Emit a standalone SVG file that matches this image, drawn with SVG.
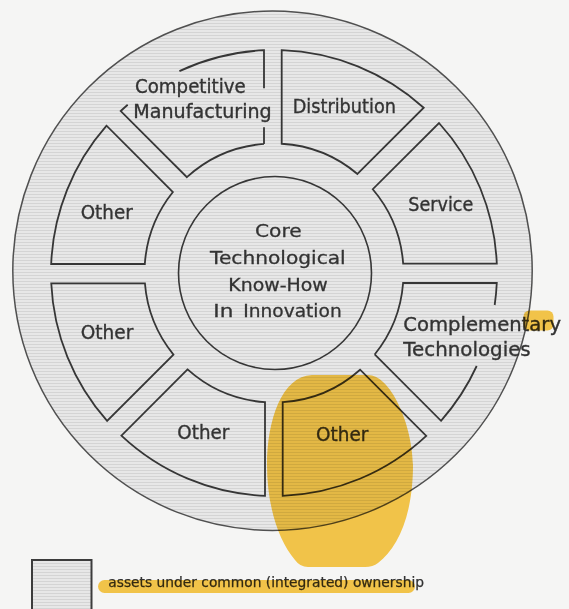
<svg xmlns="http://www.w3.org/2000/svg" width="569" height="609" viewBox="0 0 569 609">
  <defs>
    <pattern id="hatch" width="6" height="3" patternUnits="userSpaceOnUse">
      <rect width="6" height="3" fill="#e7e7e7"/>
      <rect y="2" width="6" height="1" fill="#d4d4d4"/>
    </pattern>
  </defs>
  <style>
    .seg { fill: none; stroke: #363636; stroke-width: 1.8; stroke-linejoin: miter; }
    .lbl { font-family: "DejaVu Sans", "Liberation Sans", sans-serif; font-size: 19px; fill: #333333; stroke: #333333; stroke-width: 0.35; }
    .core { font-family: "DejaVu Sans", "Liberation Sans", sans-serif; font-size: 18px; fill: #333333; stroke: #333333; stroke-width: 0.3; }
    .leg { font-family: "DejaVu Sans", "Liberation Sans", sans-serif; font-size: 13.5px; fill: #333333; stroke: #333333; stroke-width: 0.25; }
    .hl { fill: #fbcb4c; mix-blend-mode: multiply; }
  </style>

  <rect width="569" height="609" fill="#f5f5f4"/>

  <!-- outer disc -->
  <circle id="outer-disc" cx="272.5" cy="270.7" r="259.7" fill="url(#hatch)" stroke="#505050" stroke-width="1.5"/>

  <g id="node-service">
    <path class="seg" d="M403.16,263.6 L496.8,263.6 A223 223 0 0 0 439,122.99 L372.76,189.23 A129.5 129.5 0 0 1 403.16,263.6 Z"/>
    <text class="lbl" x="408.3" y="210.5" textLength="65" lengthAdjust="spacingAndGlyphs">Service</text>
  </g>

  <g id="node-distribution">
    <path class="seg" d="M357.46,173.98 L423.71,107.73 A223 223 0 0 0 281.7,50.13 L281.7,143.73 A129.5 129.5 0 0 1 357.46,173.98 Z"/>
    <text class="lbl" x="292.7" y="112.7" textLength="103.3" lengthAdjust="spacingAndGlyphs">Distribution</text>
  </g>

  <g id="node-competitive-manufacturing">
    <path class="seg" d="M264,143.89 L264,127.3 M264,88.3 L264,50.22 A223 223 0 0 0 179.4,71.1 M127.7,104.7 A223 223 0 0 0 120.74,111.02 L186.9,177.17 A129.5 129.5 0 0 1 264,143.89"/>
    <text class="lbl" x="135" y="93.3" textLength="110.7" lengthAdjust="spacingAndGlyphs">Competitive</text>
    <text class="lbl" x="133.3" y="117.5" textLength="138.4" lengthAdjust="spacingAndGlyphs">Manufacturing</text>
  </g>

  <g id="node-other-upper-left">
    <path class="seg" d="M172.92,192.04 L106.57,125.7 A223 223 0 0 0 51.18,264 L144.81,264 A129.5 129.5 0 0 1 172.92,192.04 Z"/>
    <text class="lbl" x="80.7" y="219" textLength="52" lengthAdjust="spacingAndGlyphs">Other</text>
  </g>

  <g id="node-other-lower-left">
    <path class="seg" d="M144.91,283.3 L51.24,283.3 A223 223 0 0 0 107.1,420.9 L173.43,354.58 A129.5 129.5 0 0 1 144.91,283.3 Z"/>
    <text class="lbl" x="80.7" y="338.5" textLength="52.6" lengthAdjust="spacingAndGlyphs">Other</text>
  </g>

  <g id="node-other-bottom">
    <path class="seg" d="M187.56,369.43 L121.39,435.61 A223 223 0 0 0 265,495.82 L265,402.19 A129.5 129.5 0 0 1 187.56,369.43 Z"/>
    <text class="lbl" x="177.3" y="438.5" textLength="52" lengthAdjust="spacingAndGlyphs">Other</text>
  </g>

  <g id="node-other-highlighted">
    <path class="seg" d="M282.7,402.21 L282.7,495.83 A223 223 0 0 0 426.28,435.9 L360.1,369.73 A129.5 129.5 0 0 1 282.7,402.21 Z"/>
    <text class="lbl" x="316" y="440.8" textLength="52.3" lengthAdjust="spacingAndGlyphs">Other</text>
  </g>

  <g id="node-complementary-technologies">
    <path class="seg" d="M374.68,354.46 L441,420.78 A223 223 0 0 0 476.7,366 M494.69,305 A223 223 0 0 0 496.78,283 L403.11,283 A129.5 129.5 0 0 1 374.68,354.46"/>
    <text class="lbl" x="403.3" y="330.5" textLength="157.7" lengthAdjust="spacingAndGlyphs">Complementary</text>
    <text class="lbl" x="403.3" y="355.5" textLength="127.4" lengthAdjust="spacingAndGlyphs">Technologies</text>
  </g>

  <g id="node-core">
    <circle cx="275" cy="273" r="96.5" fill="none" stroke="#363636" stroke-width="1.6"/>
    <text class="core" x="255" y="236.7" textLength="46.7" lengthAdjust="spacingAndGlyphs">Core</text>
    <text class="core" x="210" y="264" textLength="135.7" lengthAdjust="spacingAndGlyphs">Technological</text>
    <text class="core" x="228.3" y="290.7" textLength="99.4" lengthAdjust="spacingAndGlyphs">Know-How</text>
    <text class="core" y="316.7"><tspan x="213.3" textLength="20" lengthAdjust="spacingAndGlyphs">In</tspan> <tspan x="243.3" textLength="98.4" lengthAdjust="spacingAndGlyphs">Innovation</tspan></text>
  </g>

  <g id="connectors"></g>

  <g id="legend">
    <rect x="32" y="560" width="59.5" height="60" fill="url(#hatch)" stroke="#3c3c3c" stroke-width="2"/>
    <text class="leg" x="108.3" y="587" textLength="315.7" lengthAdjust="spacingAndGlyphs">assets under common (integrated) ownership</text>
  </g>

  <g id="highlights">
    <path class="hl" d="M312,375 L368,375 C390,375 412,422 413,465 C413,515 398,548 378,563 Q373,567 365,567 L308,567 Q300,567 295,560 C278,540 267,505 267,465 C267,420 282,376 312,375 Z"/>
    <rect class="hl" x="523.5" y="310.5" width="30" height="20" rx="6"/>
    <rect class="hl" x="98" y="580" width="317" height="13" rx="6.5"/>
  </g>
</svg>
